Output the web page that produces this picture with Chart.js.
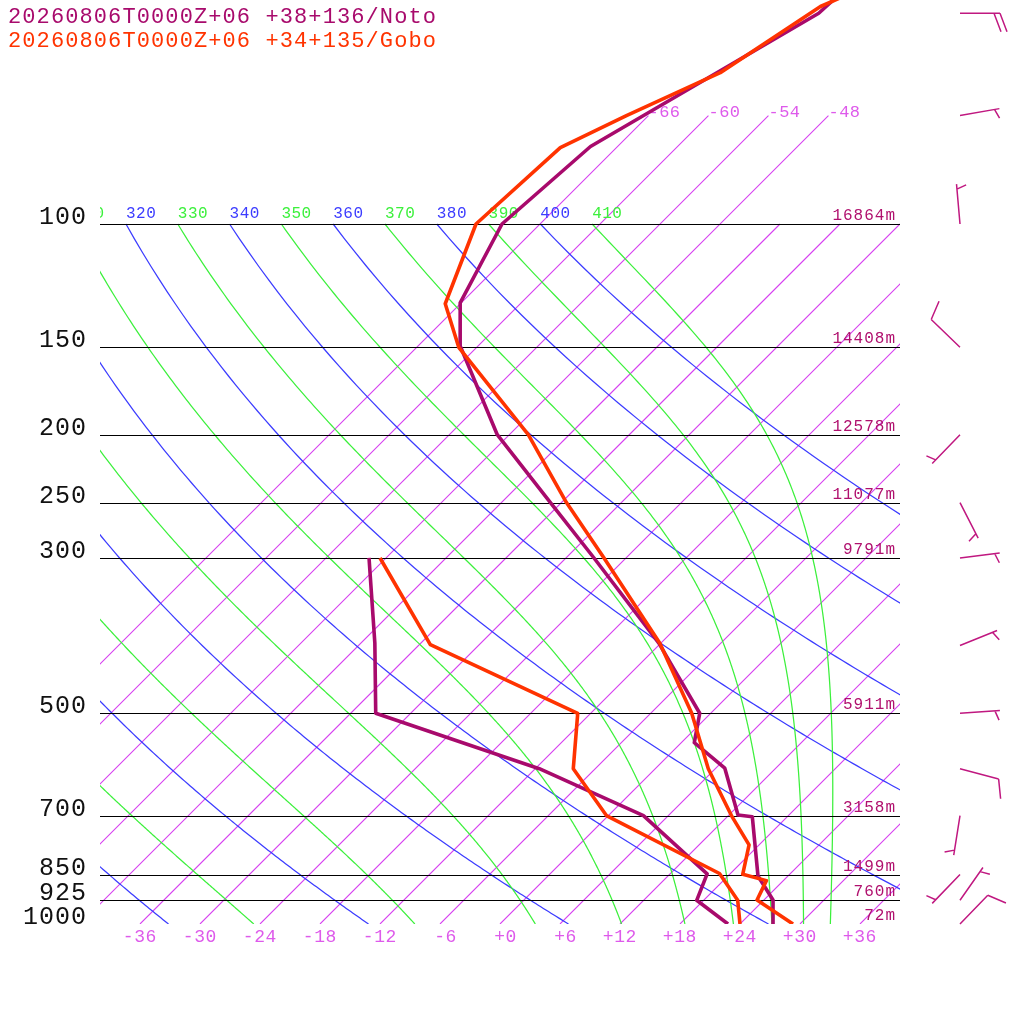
<!DOCTYPE html>
<html><head><meta charset="utf-8">
<script src="https://cdn.jsdelivr.net/npm/chart.js@4.4.1/dist/chart.umd.min.js"></script>
<style>html,body{margin:0;padding:0;background:#fff;overflow:hidden}canvas{display:block}</style>
</head><body>
<canvas id="c" width="1024" height="1024"></canvas>
<script>
// ---------------- data ----------------
const stationNames = ['20260806T0000Z+06 +38+136/Noto', '20260806T0000Z+06 +34+135/Gobo'];

// Noto temperature profile (hPa, degC)
const notoTempP = [1000, 924, 854, 702.6, 698.7, 599, 550.8, 500, 397, 300, 250, 200, 150, 129.6, 100, 77.5, 50, 45];
const notoTempT = [27.3, 24.9, 21.0, 14.5, 12.9, 6.9, 1.3, -1.1, -12.2, -27.2, -37.1, -49.2, -61.6, -66.1, -69.8, -68.7, -59.2, -58.9];
// Noto dew point profile
const notoDewP = [1000, 925, 848, 700, 600, 500, 397, 300];
const notoDewT = [22.8, 17.3, 15.7, 3.5, -11.6, -33.5, -40.6, -49.7];

// Gobo temperature profile
const goboTempP = [1000, 924, 867, 849, 771, 700, 600, 500, 397, 300, 250, 200, 150, 130, 100, 77.8, 70, 60.8, 48.9, 45];
const goboTempT = [29.3, 23.3, 22.3, 19.3, 17.0, 12.3, 5.3, -1.9, -12.1, -26.2, -35.5, -46.1, -61.8, -67.5, -72.4, -71.6, -68.2, -63.1, -59.7, -56.5];
// Gobo dew point profile
const goboDewP = [1000, 925, 847, 700, 600, 500, 399, 300];
const goboDewT = [24.0, 21.4, 16.9, -0.2, -8.2, -13.3, -34.9, -48.6];

// isobars and geopotential heights (Noto)
const isobarLevels = [100, 150, 200, 250, 300, 500, 700, 850, 925, 1000];
const heightLabels = ['16864m', '14408m', '12578m', '11077m', '9791m', '5911m', '3158m', '1499m', '760m', '72m'];

// temperature tick labels (degC at 1000 hPa)
const tempTicks = [-36, -30, -24, -18, -12, -6, 0, 6, 12, 18, 24, 30, 36];
// isotherms drawn (degC); labelled ones reach 70 hPa
const isotherms = [-66, -60, -54, -48, -42, -36, -30, -24, -18, -12, -6, 0, 6, 12, 18, 24, 30, 36];
const labelledIsotherms = [-66, -60, -54, -48];
// dry adiabats (theta, K) and moist adiabats (theta-e, K)
const dryAdiabats = [240, 260, 280, 300, 320, 340, 360, 380, 400];
const moistAdiabats = [250, 270, 290, 310, 330, 350, 370, 390, 410];
const thetaLabels = [310, 320, 330, 340, 350, 360, 370, 380, 390, 400, 410];

// winds (Noto): pressure, direction (deg), speed (kt)
const windP   = [50, 70, 100, 150, 200, 250, 300, 400, 500, 600, 700, 850, 925, 1000];
const windDir = [90, 80, 355, 314, 224, 153, 83, 68, 86, 105, 189, 224, 35, 44];
const windKt  = [20, 5, 5, 10, 5, 5, 5, 5, 5, 10, 5, 5, 5, 10];

// ---------------- styling ----------------
const NOTO = '#a80a6c', GOBO = '#ff3300';
const ISO_COLOR = 'rgb(214,64,240)', DRY_COLOR = 'rgb(60,60,255)', MOIST_COLOR = 'rgb(60,240,60)';
const LABEL_PINK = 'rgb(222,90,235)';
const FONT = '"Liberation Mono", "DejaVu Sans Mono", monospace';
const SKEW = 70; // degC per pressure decade
const PTOP = 1000 * Math.pow(10, -924 / 700);

const skewX = (t, p) => t + SKEW * Math.log10(1000 / p);
const pts = (P, T) => P.map((p, i) => ({x: skewX(T[i], p), y: p}));

// pseudo-adiabat integrated downward from 100 hPa
function moistCurve(th) {
  const Rd = 287.04, cp = 1005.7, Lv = 2.501e6, eps = 0.622;
  const f = (p, T) => {
    const tc = T - 273.15;
    const es = 6.112 * Math.exp(17.67 * tc / (tc + 243.5));
    const rs = eps * es / (p - es);
    return (Rd * T + Lv * rs) / (p * (cp + Lv * Lv * rs * eps / (Rd * T * T)));
  };
  let p = 100, T = th * Math.pow(0.1, 0.2857);
  const out = [[p, T - 273.15]];
  const h = 2;
  while (p < 1000 - 1e-9) {
    const k1 = f(p, T), k2 = f(p + h / 2, T + h / 2 * k1), k3 = f(p + h / 2, T + h / 2 * k2), k4 = f(p + h, T + h * k3);
    T += h / 6 * (k1 + 2 * k2 + 2 * k3 + k4); p += h;
    out.push([p, T - 273.15]);
  }
  return out;
}
function dryCurve(th) {
  const out = [];
  for (let p = 100; p <= 1000; p += 5) out.push([p, th * Math.pow(p / 1000, 0.2857) - 273.15]);
  return out;
}

function strokePath(ctx, color, width, build) {
  ctx.beginPath();
  build();
  ctx.lineWidth = width;
  ctx.strokeStyle = color;
  ctx.stroke();
}

const background = {
  id: 'skewtBackground',
  beforeDatasetsDraw(chart) {
    const ctx = chart.ctx, a = chart.chartArea, xs = chart.scales.x, ys = chart.scales.y;
    const X = (t, p) => xs.getPixelForValue(skewX(t, p));
    const Y = p => ys.getPixelForValue(p);
    ctx.save();
    ctx.globalAlpha = 1;
    ctx.setLineDash([]);
    ctx.beginPath(); ctx.rect(a.left, a.top, a.right - a.left, a.bottom - a.top); ctx.clip();
    // isotherms
    isotherms.forEach(t => {
      const top = labelledIsotherms.includes(t) ? 70 : 100;
      strokePath(ctx, ISO_COLOR, 1.1, () => { ctx.moveTo(X(t, 1000), Y(1000)); ctx.lineTo(X(t, top), Y(top)); });
    });
    // dry adiabats
    dryAdiabats.forEach(th => {
      const c = dryCurve(th);
      strokePath(ctx, DRY_COLOR, 1.25, () => c.forEach(([p, t], i) => i ? ctx.lineTo(X(t, p), Y(p)) : ctx.moveTo(X(t, p), Y(p))));
    });
    // moist adiabats
    moistAdiabats.forEach(th => {
      const c = moistCurve(th);
      strokePath(ctx, MOIST_COLOR, 1.25, () => c.forEach(([p, t], i) => i ? ctx.lineTo(X(t, p), Y(p)) : ctx.moveTo(X(t, p), Y(p))));
    });
    // isobars
    isobarLevels.forEach(p => {
      const y = Math.round(Y(p)) + 0.5;
      strokePath(ctx, '#000000', 1.2, () => { ctx.moveTo(a.left, y); ctx.lineTo(a.right, y); });
    });
    // theta labels on 100 hPa
    ctx.font = '16px ' + FONT; ctx.textAlign = 'left'; ctx.textBaseline = 'alphabetic';
    ctx.letterSpacing = '0.5px';
    thetaLabels.forEach(th => {
      ctx.fillStyle = (th / 10) % 2 === 0 ? DRY_COLOR : MOIST_COLOR;
      const t = th * Math.pow(0.1, 0.2857) - 273.15;
      ctx.fillText(String(th), X(t, 100), Y(100) - 6);
    });
    // isotherm labels at 70 hPa
    ctx.font = '17px ' + FONT; ctx.fillStyle = LABEL_PINK;
    labelledIsotherms.forEach(t => ctx.fillText(String(t), X(t, 70), Y(70) + 1));
    // height labels
    ctx.font = '16px ' + FONT; ctx.fillStyle = '#b0106e'; ctx.textAlign = 'right';
    ctx.letterSpacing = '1px';
    isobarLevels.forEach((p, i) => ctx.fillText(heightLabels[i], a.right - 4, Y(p) - 4));
    ctx.restore();
  },
  afterDraw(chart) {
    const ctx = chart.ctx, xs = chart.scales.x, ys = chart.scales.y;
    const X = (t, p) => xs.getPixelForValue(skewX(t, p));
    const Y = p => ys.getPixelForValue(p);
    ctx.save();
    ctx.textBaseline = 'alphabetic';
    // legend
    ctx.font = '22px ' + FONT; ctx.letterSpacing = '1.1px'; ctx.textAlign = 'left';
    ctx.fillStyle = NOTO; ctx.fillText(stationNames[0], 8, 23);
    ctx.fillStyle = GOBO; ctx.fillText(stationNames[1], 8, 47);
    // pressure labels
    ctx.font = '25px ' + FONT; ctx.letterSpacing = '1px'; ctx.textAlign = 'right'; ctx.fillStyle = '#111';
    isobarLevels.forEach(p => ctx.fillText(String(p), 87, Y(p)));
    // temperature labels
    ctx.font = '18px ' + FONT; ctx.letterSpacing = '0.6px'; ctx.fillStyle = LABEL_PINK;
    tempTicks.forEach(t => ctx.fillText((t >= 0 ? '+' : '') + t, X(t, 1000) + 17, 942));
    // wind barbs
    ctx.lineCap = 'butt';
    const L = 40, x0 = 960;
    windP.forEach((p, i) => {
      const r = windDir[i] * Math.PI / 180, ux = Math.sin(r), uy = -Math.cos(r);
      const px = -uy, py = ux, y0 = Y(p);
      strokePath(ctx, '#c01880', 1.5, () => {
        ctx.moveTo(x0, y0); ctx.lineTo(x0 + L * ux, y0 + L * uy);
        const n = Math.floor(windKt[i] / 10), half = (windKt[i] % 10) >= 5;
        let pos = L;
        for (let k = 0; k < n; k++) {
          const bx = x0 + pos * ux, by = y0 + pos * uy;
          ctx.moveTo(bx, by); ctx.lineTo(bx + 18.5 * px + 7 * ux, by + 18.5 * py + 7 * uy);
          pos -= 6;
        }
        if (half) {
          if (n === 0) pos = L - 5;
          const bx = x0 + pos * ux, by = y0 + pos * uy;
          ctx.moveTo(bx, by); ctx.lineTo(bx + 9.5 * px + 3.5 * ux, by + 9.5 * py + 3.5 * uy);
        }
      });
    });
    ctx.restore();
  }
};

const lineDs = (label, P, T, color) => ({
  label, data: pts(P, T), showLine: true, borderColor: color, backgroundColor: color,
  borderWidth: 3.6, pointRadius: 0, tension: 0, borderJoinStyle: 'round', borderCapStyle: 'butt'
});

new Chart(document.getElementById('c').getContext('2d'), {
  type: 'scatter',
  data: {datasets: [
    lineDs('Gobo T', goboTempP, goboTempT, GOBO),
    lineDs('Gobo Td', goboDewP, goboDewT, GOBO),
    lineDs('Noto T', notoTempP, notoTempT, NOTO),
    lineDs('Noto Td', notoDewP, notoDewT, NOTO)
  ]},
  options: {
    responsive: false, animation: false, devicePixelRatio: 1,
    layout: {padding: {left: 100, right: 124, top: 0, bottom: 100}},
    plugins: {legend: {display: false}, tooltip: {enabled: false}},
    scales: {
      x: {type: 'linear', min: -40, max: 40, display: false},
      y: {type: 'logarithmic', min: PTOP, max: 1000, reverse: true, display: false}
    }
  },
  plugins: [background]
});
</script>
</body></html>
